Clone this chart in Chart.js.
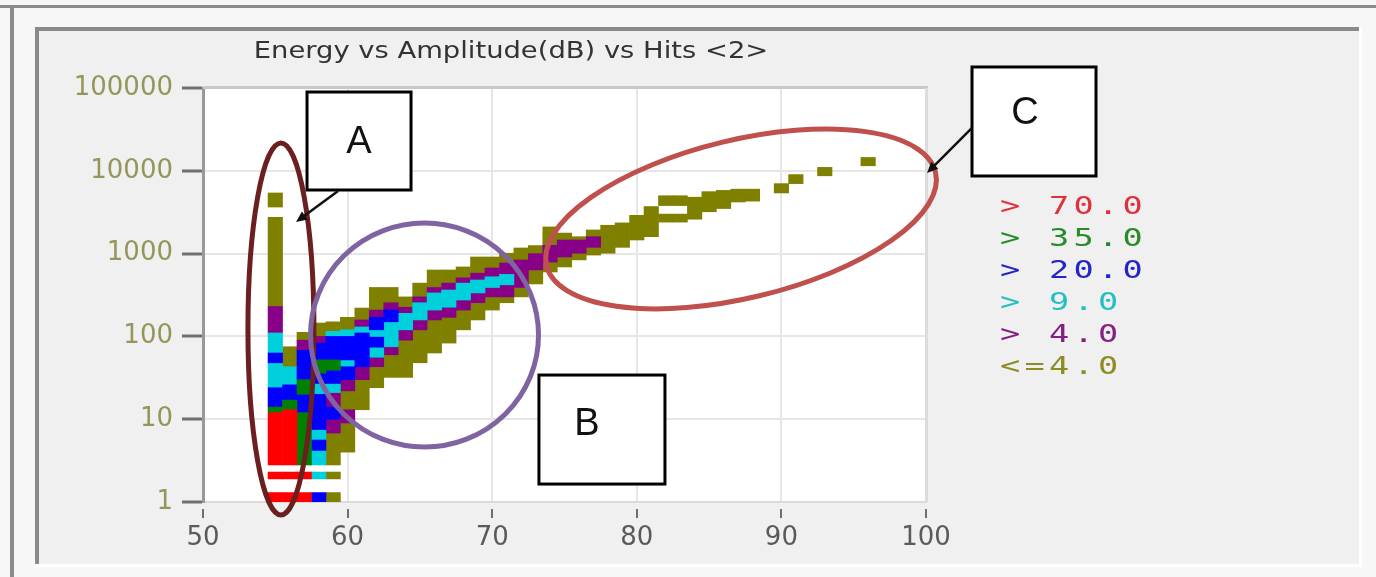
<!DOCTYPE html>
<html>
<head>
<meta charset="utf-8">
<script src="https://cdn.jsdelivr.net/npm/chart.js@4.4.1/dist/chart.umd.min.js"></script>
<style>
  html, body { margin: 0; padding: 0; background: #f7f7f7; }
  canvas { display: block; }
</style>
</head>
<body>
<canvas id="chart" width="1376" height="577"></canvas>
<script>
const chartTitle = 'Energy vs Amplitude(dB) vs Hits <2>';
const amplitudeTicks = [50, 60, 70, 80, 90, 100];
const energyTicks = [1, 10, 100, 1000, 10000, 100000];
const hitClasses = ['> 70.0', '> 35.0', '> 20.0', '> 9.0', '> 4.0', '<=4.0'];
const cellColors = ['#ff0000', '#008000', '#0000ff', '#00d0dc', '#880088', '#808000'];
const legendColors = ['#e0303c', '#2a8a2a', '#2424cc', '#22c0c0', '#842084', '#8c8c22'];

// cells: [amplitude dB, energy from, energy to]
const hitsOver70 = [
  [55, 1, 1.3], [55, 1.9, 2.3], [55, 2.8, 12],
  [56, 1, 1.3], [56, 1.9, 2.3], [56, 2.8, 13],
  [57, 1, 1.3], [57, 1.9, 2.3]
];
const hitsOver35 = [
  [55, 12, 14], [56, 13, 17], [57, 2.8, 12], [57, 20, 30], [58, 36, 52], [59, 39, 52]
];
const hitsOver20 = [
  [55, 14, 24], [55, 48, 63],
  [56, 17, 26],
  [57, 12, 20], [57, 30, 68],
  [58, 1, 1.3], [58, 4.2, 5.6], [58, 7.5, 20], [58, 27, 36], [58, 52, 83],
  [59, 10, 14], [59, 27, 39], [59, 52, 100],
  [60, 30, 43], [60, 52, 100],
  [61, 43, 110],
  [62, 74, 98], [62, 120, 170],
  [63, 150, 210]
];
const hitsOver9 = [
  [55, 24, 48], [55, 63, 110],
  [56, 26, 43],
  [58, 1.9, 2.3], [58, 2.8, 4.2], [58, 5.6, 7.5], [58, 20, 27],
  [59, 21, 27], [59, 100, 115],
  [60, 43, 52], [60, 100, 120],
  [61, 110, 130],
  [62, 56, 74], [62, 98, 120],
  [63, 75, 150],
  [64, 120, 190], [65, 158, 255], [66, 208, 335], [67, 225, 363],
  [68, 275, 440], [69, 335, 480], [70, 390, 525], [71, 420, 560]
];
const hitsOver4 = [
  [55, 110, 230],
  [57, 68, 90],
  [58, 83, 100],
  [59, 6.8, 10], [59, 14, 21],
  [60, 9, 13], [60, 22, 30],
  [61, 30, 43], [61, 130, 158],
  [62, 43, 56], [62, 170, 208],
  [63, 60, 75], [63, 210, 255],
  [64, 90, 120], [64, 190, 225],
  [65, 120, 158], [65, 255, 300],
  [66, 158, 208], [66, 335, 390],
  [67, 170, 225], [67, 363, 440],
  [68, 208, 275], [68, 440, 510],
  [69, 255, 335], [69, 480, 580],
  [70, 300, 390], [70, 525, 670],
  [71, 300, 420], [71, 560, 770],
  [72, 390, 837],
  [73, 634, 1000],
  [74, 790, 1260],
  [75, 910, 1460],
  [76, 1010, 1460],
  [77, 1190, 1600]
];
const hitsUpTo4 = [
  [55, 230, 2750], [55, 3650, 5400],
  [56, 43, 75],
  [57, 90, 112],
  [58, 100, 145],
  [59, 1, 1.3], [59, 1.9, 2.3], [59, 2.8, 6.8], [59, 115, 150],
  [60, 4, 9], [60, 13, 22], [60, 120, 170],
  [61, 13, 30], [61, 158, 220],
  [62, 24, 43], [62, 208, 390],
  [63, 32, 60], [63, 255, 390],
  [64, 32, 90], [64, 225, 300],
  [65, 48, 120], [65, 300, 440],
  [66, 63, 158], [66, 390, 634],
  [67, 83, 170], [67, 440, 634],
  [68, 120, 208], [68, 510, 690],
  [69, 158, 255], [69, 580, 910],
  [70, 208, 300], [70, 670, 910],
  [71, 255, 300], [71, 770, 1010],
  [72, 300, 390], [72, 837, 1170],
  [73, 430, 634], [73, 1000, 1250],
  [74, 600, 790], [74, 1260, 2100],
  [75, 690, 910], [75, 1460, 1770],
  [76, 840, 1010], [76, 1460, 1600],
  [77, 960, 1190], [77, 1600, 1930],
  [78, 1010, 2200], [79, 1190, 2350], [80, 1460, 2900], [81, 1600, 3700],
  [82, 2400, 3000], [82, 3800, 5000], [83, 2400, 3000], [83, 3800, 5000],
  [84, 2600, 4800], [85, 3200, 5600], [86, 3500, 5800], [87, 4200, 6000], [88, 4300, 6000],
  [90, 5400, 7000], [91, 7000, 9000], [93, 8700, 11000], [96, 11500, 14500]
];
const cellSets = [hitsOver70, hitsOver35, hitsOver20, hitsOver9, hitsOver4, hitsUpTo4];

// hand drawn markings, anchored at (amplitude, energy)
const rings = [
  { amp: 55.39, energy: 123, rx: 33, ry: 186, rot: 0, color: '#6b1f1f' },
  { amp: 65.32, energy: 104, rx: 114, ry: 112, rot: 0, color: '#8064a2' },
  { amp: 87.21, energy: 2620, rx: 200, ry: 79, rot: -13.5, color: '#c0504d' }
];
const boxes = [
  { text: 'A', amp: 60.79, energy: 22900, w: 104, h: 98, dx: 0, dy: 2 },
  { text: 'B', amp: 77.59, energy: 7.5, w: 126, h: 109, dx: -15, dy: -5 },
  { text: 'C', amp: 107.47, energy: 39400, w: 124, h: 109, dx: -9, dy: -8 }
];
const arrows = [
  { from: [59.34, 5700], to: [56.43, 2410] },
  { from: [103.18, 32900], to: [100.07, 9400] }
];

const decor = {
  id: 'decor',
  beforeDraw(chart) {
    const { ctx, chartArea: ca, width, height } = chart;
    ctx.save();
    ctx.fillStyle = '#f7f7f7';
    ctx.fillRect(0, 0, width, height);
    ctx.fillStyle = '#8c8c8c';
    ctx.fillRect(0, 5, width, 3);
    ctx.fillRect(10, 5, 4, height);
    ctx.fillStyle = '#f0f0f0';
    ctx.fillRect(35, 27, 1327, 540);
    ctx.fillStyle = '#8a8a8a';
    ctx.fillRect(35, 27, 1327, 4);
    ctx.fillRect(35, 27, 4, 540);
    ctx.fillStyle = '#ffffff';
    ctx.fillRect(35, 564, 1327, 3);
    ctx.fillRect(1359, 27, 3, 540);
    ctx.fillRect(ca.left, ca.top, ca.width, ca.height);

    ctx.fillStyle = '#333333';
    ctx.font = '23px "DejaVu Sans"';
    ctx.textAlign = 'center';
    ctx.textBaseline = 'middle';
    ctx.translate(511, 52);
    ctx.scale(1.19, 1);
    ctx.fillText(chartTitle, 0, 0);
    ctx.restore();
  },
  beforeDatasetsDraw(chart) {
    const { ctx, chartArea: ca } = chart;
    ctx.save();
    ctx.fillStyle = '#c8c8c8';
    ctx.fillRect(ca.left, ca.top - 2, ca.width + 2, 3);
    ctx.fillStyle = '#dcdcdc';
    ctx.fillRect(ca.right - 1, ca.top, 3, ca.height);
    ctx.restore();
  },
  afterDraw(chart) {
    const { ctx } = chart;
    const xs = chart.scales.x, ys = chart.scales.y;
    const px = (a, e) => [xs.getPixelForValue(a), ys.getPixelForValue(e)];
    ctx.save();

    ctx.lineWidth = 5;
    rings.forEach(r => {
      const [cx, cy] = px(r.amp, r.energy);
      ctx.strokeStyle = r.color;
      ctx.beginPath();
      ctx.ellipse(cx, cy, r.rx, r.ry, r.rot * Math.PI / 180, 0, Math.PI * 2);
      ctx.stroke();
    });

    ctx.font = '38px "Liberation Sans"';
    ctx.textAlign = 'center';
    ctx.textBaseline = 'middle';
    boxes.forEach(b => {
      const [cx, cy] = px(b.amp, b.energy);
      ctx.fillStyle = '#ffffff';
      ctx.fillRect(cx - b.w / 2, cy - b.h / 2, b.w, b.h);
      ctx.lineWidth = 3;
      ctx.strokeStyle = '#000000';
      ctx.strokeRect(cx - b.w / 2, cy - b.h / 2, b.w, b.h);
      ctx.fillStyle = '#111111';
      ctx.fillText(b.text, cx + b.dx, cy + b.dy);
    });

    arrows.forEach(a => {
      const [x1, y1] = px(a.from[0], a.from[1]);
      const [x2, y2] = px(a.to[0], a.to[1]);
      const ang = Math.atan2(y2 - y1, x2 - x1);
      ctx.strokeStyle = '#111111';
      ctx.fillStyle = '#111111';
      ctx.lineWidth = 2.5;
      ctx.beginPath();
      ctx.moveTo(x1, y1);
      ctx.lineTo(x2 - 8 * Math.cos(ang), y2 - 8 * Math.sin(ang));
      ctx.stroke();
      ctx.beginPath();
      ctx.moveTo(x2, y2);
      ctx.lineTo(x2 - 11 * Math.cos(ang) + 5 * Math.sin(ang), y2 - 11 * Math.sin(ang) - 5 * Math.cos(ang));
      ctx.lineTo(x2 - 11 * Math.cos(ang) - 5 * Math.sin(ang), y2 - 11 * Math.sin(ang) + 5 * Math.cos(ang));
      ctx.closePath();
      ctx.fill();
    });

    // legend: monospaced coloured labels
    ctx.font = '24px "DejaVu Sans Mono"';
    hitClasses.forEach((label, i) => {
      ctx.fillStyle = legendColors[i];
      const y = 208 + i * 32;
      [...label].forEach((ch, j) => {
        ctx.save();
        ctx.translate(1010 + j * 24.5, y);
        ctx.scale(1.4, 1);
        ctx.fillText(ch, 0, 0);
        ctx.restore();
      });
    });
    ctx.restore();
  }
};

const datasets = cellSets.map((cells, i) => ({
  label: hitClasses[i],
  data: cells.map(([amp, lo, hi]) => ({ x: amp, y: [lo, hi] })),
  backgroundColor: cellColors[i],
  borderWidth: 0,
  grouped: false,
  barPercentage: 1,
  categoryPercentage: 1
}));

new Chart(document.getElementById('chart'), {
  type: 'bar',
  data: { datasets },
  plugins: [decor],
  options: {
    responsive: false,
    animation: false,
    layout: { padding: { left: 0, right: 450, top: 88, bottom: 0 } },
    plugins: { legend: { display: false }, tooltip: { enabled: false }, title: { display: false } },
    scales: {
      x: {
        type: 'linear',
        min: 50,
        max: 100,
        offset: false,
        afterFit: (scale) => { scale.height = 75; },
        ticks: {
          stepSize: 10,
          padding: 5,
          color: '#5a5a5a',
          font: { family: 'DejaVu Sans', size: 26 },
          callback: (v) => String(v)
        },
        grid: {
          offset: false,
          color: '#e6e6e6',
          lineWidth: 2,
          tickLength: 16,
          tickColor: '#707070',
          tickWidth: 2,
          tickBorderDash: [0, 6, 10]
        },
        border: { color: '#dadada', width: 2 }
      },
      y: {
        type: 'logarithmic',
        min: 1,
        max: 100000,
        afterFit: (scale) => { scale.width = 203; },
        afterBuildTicks: (scale) => { scale.ticks = energyTicks.map(v => ({ value: v })); },
        ticks: {
          padding: 9,
          color: '#96965a',
          font: { family: 'DejaVu Sans', size: 26 },
          callback: (v) => String(v)
        },
        grid: {
          color: '#e6e6e6',
          lineWidth: 2,
          tickLength: 21,
          tickColor: '#707070',
          tickWidth: 3
        },
        border: { color: '#999999', width: 3 }
      }
    }
  }
});
</script>
</body>
</html>
